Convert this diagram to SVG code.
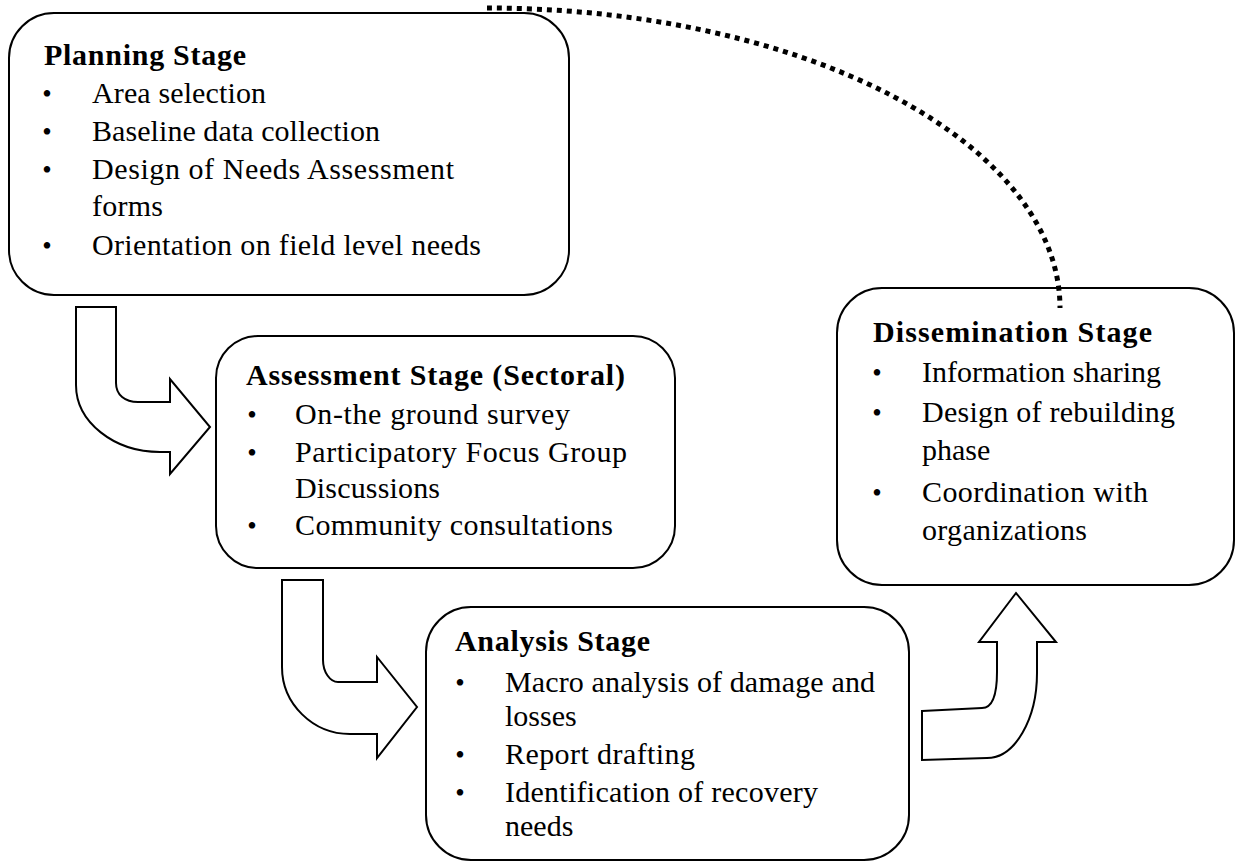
<svg xmlns="http://www.w3.org/2000/svg" width="1239" height="867" viewBox="0 0 1239 867">
<style>
  .box { fill: #ffffff; stroke: #000000; stroke-width: 2; }
  .arrow { fill: #ffffff; stroke: #000000; stroke-width: 2; stroke-linejoin: miter; }
  .dotted { fill: none; stroke: #000000; stroke-width: 5; stroke-dasharray: 5 5; }
  text { font-family: "Liberation Serif", "Times New Roman", serif; font-size: 30px; fill: #000000; }
  .title { font-weight: bold; }
  .bul { text-anchor: middle; font-size: 27px; }
</style>
<rect width="1239" height="867" fill="#ffffff"/>

<g id="planning">
  <rect class="box" x="9" y="13" width="560" height="282" rx="45" ry="45"/>
  <text class="title" x="44" y="65" textLength="202">Planning Stage</text>
  <text class="bul" x="47" y="103">•</text>
  <text x="92" y="103" textLength="174">Area selection</text>
  <text class="bul" x="47" y="141">•</text>
  <text x="92" y="141" textLength="288">Baseline data collection</text>
  <text class="bul" x="47" y="179">•</text>
  <text x="92" y="179" textLength="362">Design of Needs Assessment</text>
  <text x="92" y="216" textLength="71">forms</text>
  <text class="bul" x="47" y="255">•</text>
  <text x="92" y="255" textLength="389">Orientation on field level needs</text>
</g>

<g id="assessment">
  <rect class="box" x="216" y="336" width="459" height="232" rx="42" ry="42"/>
  <text class="title" x="246" y="385" textLength="379">Assessment Stage (Sectoral)</text>
  <text class="bul" x="252" y="424">•</text>
  <text x="295" y="424" textLength="275">On-the ground survey</text>
  <text class="bul" x="252" y="462">•</text>
  <text x="295" y="462" textLength="332">Participatory Focus Group</text>
  <text x="295" y="498" textLength="145">Discussions</text>
  <text class="bul" x="252" y="535">•</text>
  <text x="295" y="535" textLength="318">Community consultations</text>
</g>

<g id="analysis">
  <rect class="box" x="426" y="607" width="483" height="253" rx="45" ry="45"/>
  <text class="title" x="455" y="651" textLength="195">Analysis Stage</text>
  <text class="bul" x="460" y="692">•</text>
  <text x="505" y="692" textLength="370">Macro analysis of damage and</text>
  <text x="505" y="726">losses</text>
  <text class="bul" x="460" y="764">•</text>
  <text x="505" y="764" textLength="190">Report drafting</text>
  <text class="bul" x="460" y="802">•</text>
  <text x="505" y="802" textLength="313">Identification of recovery</text>
  <text x="505" y="836">needs</text>
</g>

<g id="dissemination">
  <rect class="box" x="837" y="288" width="397" height="297" rx="45" ry="45"/>
  <text class="title" x="873" y="342" textLength="279">Dissemination Stage</text>
  <text class="bul" x="877" y="382">•</text>
  <text x="922" y="382" textLength="239">Information sharing</text>
  <text class="bul" x="877" y="422">•</text>
  <text x="922" y="422" textLength="253">Design of rebuilding</text>
  <text x="922" y="460">phase</text>
  <text class="bul" x="877" y="502">•</text>
  <text x="922" y="502" textLength="226">Coordination with</text>
  <text x="922" y="540" textLength="165">organizations</text>
</g>

<g id="connectors">
  <path id="arrow-planning-assessment" class="arrow" d="M76,307 L116,307 L116,383 C116,395 125,402 138,402 L170,402 L170,379 L210,427 L170,474 L170,452 L160,452 C114,452 76,422 76,385 Z"/>
  <path id="arrow-assessment-analysis" class="arrow" d="M282,580 L323,580 L323,660 C323,672 330,682 338,682 L377,682 L377,657 L417,707 L377,758 L377,734 L350,734 C313,734 282,704 282,667 Z"/>
  <path id="arrow-analysis-dissemination" class="arrow" d="M922,711 L982,708 C992,708 997,695 997,672 L997,642 L979,642 L1016,593 L1056,642 L1037,642 L1037,673 C1037,719 1015,758 987,758 L922,760 Z"/>
  <path id="dotted-dissemination-planning" class="dotted" d="M487,8 A573,300 0 0 1 1060,308"/>
</g>
</svg>
